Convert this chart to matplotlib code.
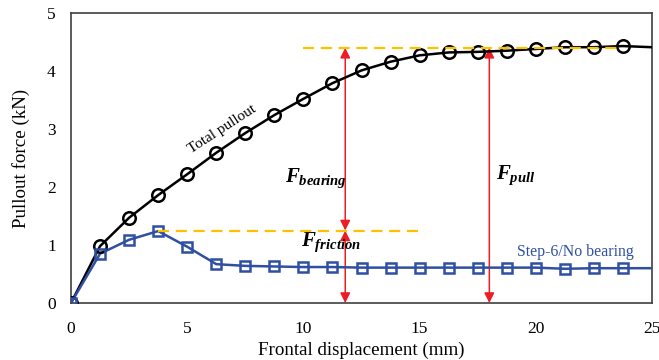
import matplotlib
matplotlib.use("Agg")
import matplotlib.pyplot as plt
import numpy as np

# frontal displacement (mm) at each measured step
disp = [0, 1.25, 2.5, 3.75, 5, 6.25, 7.5, 8.75, 10, 11.25, 12.5, 13.75,
        15, 16.25, 17.5, 18.75, 20, 21.25, 22.5, 23.75]
total = [0, 0.98, 1.47, 1.86, 2.22, 2.59, 2.93, 3.24, 3.52, 3.79, 4.01, 4.16,
         4.27, 4.32, 4.33, 4.35, 4.38, 4.41, 4.41, 4.43]
no_bearing = [0, 0.85, 1.09, 1.24, 0.97, 0.67, 0.64, 0.63, 0.62, 0.62, 0.61, 0.61,
              0.61, 0.61, 0.61, 0.61, 0.61, 0.59, 0.60, 0.60]
# line carries on to the edge of the axis
end_x = 25
end_total = 4.41
end_nobear = 0.60

f_pull = 4.40
f_friction = 1.25
x_bearing_arrow = 11.8
x_pull_arrow = 18.0

plt.rcParams['font.family'] = ['Liberation Serif', 'DejaVu Serif']
plt.rcParams['mathtext.fontset'] = 'custom'
plt.rcParams['mathtext.it'] = 'Liberation Serif:italic:bold'
plt.rcParams['mathtext.bf'] = 'Liberation Serif:bold'

fig = plt.figure(figsize=(6.59, 3.6), dpi=100)
ax = fig.add_axes([71/659, 57/360, 581/659, 290/360])

blue = "#2F4FA2"
ax.plot(disp + [end_x], total + [end_total], color="black", lw=1.8, zorder=3)
ax.plot(disp, total, ls="none", marker="o", ms=9, mfc="none", mec="black",
        mew=1.8, zorder=4)
ax.plot(disp + [end_x], no_bearing + [end_nobear], color=blue, lw=1.8, zorder=3)
ax.plot(disp, no_bearing, ls="none", marker="s", ms=7.5, mfc="none", mec=blue,
        mew=1.8, zorder=4)

# guide lines
ax.plot([10, 23.75], [f_pull, f_pull], color="#FFC000", lw=1.6, ls=(0, (5, 3)), zorder=5)
ax.plot([3.75, 15], [f_friction, f_friction], color="#FFC000", lw=1.6, ls=(0, (5, 3)), zorder=5)

red = "#EE1C25"
arr = dict(arrowstyle="<|-|>", color=red, lw=1.1, mutation_scale=15,
           shrinkA=0, shrinkB=0)
ax.annotate("", xy=(x_bearing_arrow, f_pull), xytext=(x_bearing_arrow, f_friction),
            arrowprops=arr, zorder=2)
ax.annotate("", xy=(x_bearing_arrow, f_friction), xytext=(x_bearing_arrow, 0),
            arrowprops=arr, zorder=2)
ax.annotate("", xy=(x_pull_arrow, f_pull), xytext=(x_pull_arrow, 0),
            arrowprops=arr, zorder=2)

ax.text(9.2, 2.15, r"$F_{bearing}$", fontsize=15, ha="left", va="center")
ax.text(9.9, 1.05, r"$F_{friction}$", fontsize=15, ha="left", va="center")
ax.text(18.3, 2.2, r"$F_{pull}$", fontsize=15, ha="left", va="center")
ax.text(6.5, 3.0, "Total pullout", fontsize=11, rotation=33,
        ha="center", va="center", zorder=6)
ax.text(21.7, 0.88, "Step-6/No bearing", fontsize=11.4, color=blue,
        ha="center", va="center")

ax.set_xlim(0, 25)
ax.set_ylim(0, 5)
ax.set_xticks([0, 5, 10, 15, 20, 25])
ax.set_yticks([0, 1, 2, 3, 4, 5])
ax.tick_params(length=0, labelsize=12.5)
ax.tick_params(axis="x", pad=13)
ax.tick_params(axis="y", pad=11)
ax.set_xlabel("Frontal displacement (mm)", fontsize=13.7, labelpad=3)
ax.set_ylabel("Pullout force (kN)", fontsize=13.7, labelpad=12)
for s in ax.spines.values():
    s.set_color("#404040")
    s.set_linewidth(1.2)

fig.savefig("out.png", dpi=100)
